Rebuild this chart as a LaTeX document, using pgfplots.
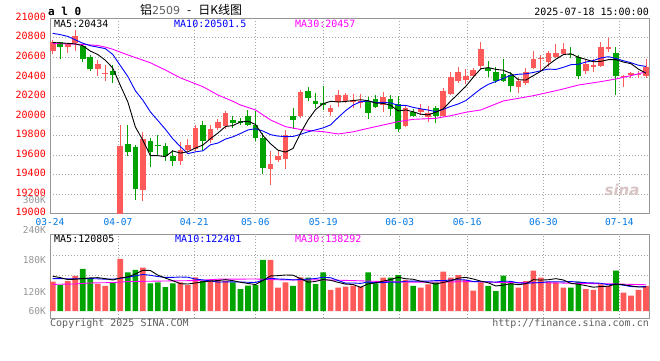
\documentclass[border=0pt]{standalone}
\usepackage{pgfplots}
\pgfplotsset{compat=1.18}
\usepackage{pgfplotstable}
\usepackage{fontspec}
\setmainfont{DejaVu Sans}
\setmonofont{DejaVu Sans Mono}
\newfontfamily\cjk{Noto Sans CJK SC}
\definecolor{upred}{RGB}{255,90,90}
\definecolor{dngreen}{RGB}{0,163,0}
\definecolor{bordergray}{RGB}{150,150,150}
\definecolor{gridgray}{RGB}{165,165,165}
\definecolor{datablue}{RGB}{0,120,230}
\definecolor{mathirty}{RGB}{255,0,255}
\definecolor{maten}{RGB}{0,0,255}
\definecolor{txtgray}{RGB}{95,95,95}
\definecolor{lblgray}{RGB}{150,150,150}

% i open high low close volume(K)
\pgfplotstableread{
i open high low close vol
0 20665 20778 20632 20754 147.6
2 20710 20750 20648 20734 150.9
3 20745 20880 20665 20820 176.1
6 20484 20575 20413 20532 135.8
7 20430 20522 20360 20443 125.8
9 19000 19910 19000 19695 261.6
12 19243 19840 19133 19762 218.0
17 19543 19735 19500 19652 144.2
18 19652 19760 19635 19703 130.8
19 19660 19908 19640 19874 169.4
21 19750 19905 19725 19867 157.6
22 19874 19966 19858 19942 157.6
23 19898 20050 19867 20034 152.6
29 19458 19640 19295 19509 256.6
30 19550 19652 19527 19594 117.4
31 19565 19860 19460 19810 144.2
33 19995 20265 19975 20250 169.4
37 20045 20113 20000 20085 105.7
38 20140 20266 20096 20215 117.4
39 20154 20240 20130 20215 122.4
40 20140 20222 20080 20164 127.5
41 20130 20225 20080 20154 122.4
44 20113 20249 20045 20198 167.7
47 19901 20113 19891 20085 156.0
49 20045 20123 20010 20072 117.4
50 19986 20103 19942 20034 134.2
52 20000 20283 19993 20256 197.9
53 20225 20454 20215 20403 167.7
54 20358 20505 20335 20447 181.1
55 20369 20481 20324 20410 156.0
56 20410 20488 20403 20471 102.3
57 20515 20754 20481 20686 144.2
62 20300 20386 20240 20362 117.4
63 20341 20488 20317 20447 150.9
64 20488 20669 20478 20584 202.9
65 20580 20625 20454 20590 167.7
66 20556 20665 20505 20642 147.6
67 20601 20737 20590 20642 144.2
68 20635 20744 20625 20686 117.4
71 20464 20573 20430 20532 110.7
72 20505 20580 20454 20522 105.7
73 20515 20761 20505 20710 134.2
74 20686 20802 20659 20710 125.8
76 20395 20420 20300 20408 92.2
77 20418 20450 20385 20440 77.1
78 20418 20464 20388 20428 105.7
79 20410 20580 20390 20505 125.8
}\updata

\pgfplotstableread{
i open high low close vol
1 20755 20760 20585 20710 130.8
4 20720 20735 20550 20580 211.3
5 20600 20625 20465 20481 164.3
8 20464 20522 20335 20420 142.5
10 19713 19910 19594 19635 194.5
11 19683 19705 19140 19253 206.3
13 19744 19775 19481 19632 139.2
14 19703 19806 19590 19688 144.2
15 19693 19725 19540 19587 120.7
16 19591 19648 19485 19543 139.2
20 19908 19945 19640 19744 150.9
24 19960 20003 19880 19925 144.2
25 19950 19976 19905 19925 110.7
26 19995 20061 19898 19908 127.5
27 19908 20050 19745 19775 130.8
28 19772 19830 19407 19465 256.6
32 20000 20080 19870 19960 125.8
34 20256 20300 20155 20188 167.7
35 20154 20232 20080 20120 135.8
36 20137 20307 20062 20110 194.5
42 20154 20198 19966 20034 194.5
43 20171 20215 20080 20096 139.2
45 20171 20215 19995 20068 167.7
46 20120 20205 19840 19864 181.1
48 20045 20072 19993 20003 125.8
51 20079 20106 19925 20000 144.2
58 20488 20563 20403 20464 125.8
59 20447 20505 20335 20358 100.6
60 20430 20584 20352 20362 177.8
61 20420 20454 20250 20311 139.2
69 20630 20703 20590 20625 117.4
70 20608 20625 20380 20410 147.6
75 20648 20710 20215 20410 202.9
}\dndata

\pgfplotstableread{
i v
0 20752
1 20748
2 20744
3 20738
4 20719.6
5 20665
6 20629.4
7 20571.2
8 20491.2
9 20314.2
10 20145
11 19889.2
12 19753
13 19595.4
14 19594
15 19584.4
16 19642.4
17 19620.4
18 19634.6
19 19671.8
20 19703.2
21 19768
22 19826
23 19892.2
24 19902.4
25 19938.6
26 19946.8
27 19913.4
28 19799.6
29 19716.4
30 19650.2
31 19630.6
32 19667.6
33 19824.6
34 19960.4
35 20065.6
36 20125.6
37 20150.6
38 20143.6
39 20149
40 20157.8
41 20166.6
42 20156.4
43 20132.6
44 20129.2
45 20110
46 20052
47 20062.2
48 20043.6
49 20018.4
50 20011.6
51 20038.8
52 20073
53 20153
54 20228
55 20303.2
56 20397.4
57 20483.4
58 20495.6
59 20477.8
60 20468.2
61 20436.2
62 20371.4
63 20368
64 20413.2
65 20458.8
66 20525
67 20581
68 20628.8
69 20637
70 20601
71 20579
72 20555
73 20559.8
74 20576.8
75 20576.8
76 20552
77 20535.6
78 20479.2
79 20438.2
}\mafive

\pgfplotstableread{
i v
0 20846
1 20833
2 20815
3 20780
4 20745
5 20720
6 20705
7 20690
8 20630
9 20516.9
10 20405
11 20259.3
12 20162.1
13 20043.3
14 19954.1
15 19864.7
16 19765.8
17 19686.7
18 19615
19 19632.9
20 19643.8
21 19705.2
22 19723.2
23 19763.4
24 19787.1
25 19820.9
26 19857.4
27 19869.7
28 19845.9
29 19809.4
30 19794.4
31 19788.7
32 19790.5
33 19812.1
34 19838.4
35 19857.9
36 19878.1
37 19909.1
38 19984.1
39 20054.7
40 20111.7
41 20146.1
42 20153.5
43 20138.1
44 20139.1
45 20133.9
46 20109.3
47 20109.3
48 20088.1
49 20073.8
50 20060.8
51 20045.4
52 20067.6
53 20098.3
54 20123.2
55 20157.4
56 20218.1
57 20278.2
58 20324.3
59 20352.9
60 20385.7
61 20416.8
62 20427.4
63 20431.8
64 20445.5
65 20463.5
66 20480.6
67 20476.2
68 20498.4
69 20525.1
70 20529.9
71 20552
72 20568
73 20594.3
74 20606.9
75 20588.9
76 20565.5
77 20545.3
78 20519.5
79 20507.5
}\maten

\pgfplotstableread{
i v
0 20742
2 20738
4 20733
6 20722
7 20705
8 20683
10 20625
13 20545
15 20471
17 20390
20 20300
22 20215
24 20150
25 20113
27 20062
29 19960
30 19925
31 19891
33 19862
35 19845
36 19840
38 19816
40 19838
42 19874
44 19908
46 19942
48 19966
51 19976
53 20003
55 20038
57 20062
60 20154
62 20181
64 20208
66 20242
68 20277
70 20317
73 20352
75 20379
77 20413
79 20452
}\mathirtyt

\pgfplotstableread{
i v
0 175
1 168
2 158
3 160
4 163.3
5 166.7
6 167.7
7 162.7
8 155.9
9 166
10 172
11 186.1
12 204.6
13 203.9
14 180.4
15 165.7
16 152.3
17 137.5
18 135.8
19 140.9
20 146.9
21 150.6
22 153.3
23 157.6
24 152.6
25 144.5
26 138.5
27 133.2
28 154
29 176.4
30 177.8
31 181.1
32 180.1
33 162.7
34 144.9
35 148.6
36 158.6
37 154.6
38 144.2
39 135.2
40 133.5
41 119.1
42 136.8
43 141.2
44 150.3
45 158.3
46 170
47 162.3
48 159.7
49 149.6
50 142.9
51 135.5
52 143.9
53 152.3
54 165
55 169.4
56 161
57 150.3
58 141.9
59 125.8
60 130.1
61 137.5
62 132.2
63 137.2
64 157.6
65 155.6
66 157.3
67 162.7
68 156
69 138.9
70 134.8
71 127.5
72 119.8
73 123.1
74 124.8
75 135.9
76 132.2
77 126.4
78 120.7
79 120.7
}\vmafive

\pgfplotstableread{
i v
0 163
1 163
2 162
3 162
4 163
5 163
6 162
7 160
8 160
9 164.7
10 169.4
11 176.9
12 183.6
13 179.9
14 173.2
15 168.9
16 169.2
17 171
18 169.9
19 160.7
20 156.3
21 151.4
22 145.4
23 146.7
24 146.7
25 145.7
26 144.6
27 143.2
28 155.8
29 164.5
30 161.2
31 159.8
32 156.6
33 158.3
34 160.7
35 163.2
36 169.9
37 167.4
38 153.5
39 140
40 141
41 138.9
42 145.7
43 142.7
44 142.7
45 145.9
46 144.6
47 149.6
48 150.4
49 149.9
50 150.6
51 152.8
52 153.1
53 156
54 157.3
55 156.1
56 148.3
57 147.1
58 147.1
59 145.4
60 149.8
61 149.3
62 141.2
63 139.5
64 141.7
65 142.9
66 147.4
67 147.4
68 146.6
69 148.3
70 145.2
71 142.4
72 141.2
73 139.5
74 131.8
75 135.4
76 129.8
77 123.1
78 121.9
79 122.8
}\vmaten

\pgfplotstableread{
i v
0 134
3 136
5 141
8 143
10 148
15 151
19 153
22 160
27 161
30 157
37 156
40 153
44 148
48 145
52 146
56 148
60 143
66 142
70 139
75 136
79 132
}\vmathirty

\pgfplotsset{
  chartbase/.style={
    scale only axis, anchor=south west,
    width=599.3pt,
    xmin=-0.36, xmax=79.44,
    scaled ticks=false,
    axis line style={draw=bordergray, line width=0.8pt},
    major tick length=0pt,
    grid=major,
    major grid style={draw=gridgray, line width=0.8pt, dash pattern=on 1pt off 2pt},
    xtick={-0.36,8.70,18.85,26.98,36.03,46.2,55.2,65.33,75.45},
  },
  wick/.style={draw=none, mark=none, forget plot,
    error bars/.cd, y dir=plus, y explicit, error mark=none,
    error bar style={draw=#1, solid, line width=1pt}},
  body/.style={draw=none, mark=none, forget plot,
    error bars/.cd, y dir=plus, y explicit, error mark=none,
    error bar style={draw=#1, solid, line width=5.6pt}},
}

\begin{document}
\begin{tikzpicture}[x=1pt,y=1pt]
\useasboundingbox (0,0) rectangle (660,360);
\fill[white] (0,0) rectangle (660,360);

% ---------- price panel ----------
\begin{axis}[chartbase,
  at={(50pt,146.3pt)}, height=195.4pt,
  ymin=19000, ymax=21000,
  ytick={19000,19200,19400,19600,19800,20000,20200,20400,20600,20800,21000},
  yticklabels={19000,19200,19400,19600,19800,20000,20200,20400,20600,20800,21000},
  yticklabel style={font=\ttfamily\fontsize{10}{10}\selectfont, text=red, inner sep=0pt, xshift=-4pt, yshift=1.5pt},
  xticklabels={03-24,04-07,04-21,05-06,05-19,06-03,06-16,06-30,07-14},
  xticklabel style={font=\ttfamily\fontsize{9.5}{9.5}\selectfont, text=datablue, inner sep=0pt, yshift=-4.5pt},
]
\addplot[wick=upred] table[x=i, y=low, y error plus expr={\thisrow{high}-\thisrow{low}}] {\updata};
\addplot[body=upred] table[x=i, y=open, y error plus expr={max(\thisrow{close}-\thisrow{open},10)}] {\updata};
\addplot[wick=dngreen] table[x=i, y=low, y error plus expr={\thisrow{high}-\thisrow{low}}] {\dndata};
\addplot[body=dngreen] table[x=i, y=close, y error plus expr={max(\thisrow{open}-\thisrow{close},10)}] {\dndata};
\addplot[mathirty, line width=0.9pt, mark=none] table[x=i, y=v] {\mathirtyt};
\addplot[maten, line width=0.9pt, mark=none] table[x=i, y=v] {\maten};
\addplot[black, line width=0.9pt, mark=none] table[x=i, y=v] {\mafive};
\end{axis}

% ---------- volume panel ----------
\begin{axis}[chartbase,
  at={(50pt,41.7pt)}, height=84pt,
  ymin=-36.7, ymax=385.8,
  ytick={177.6,278.2}, yticklabels={},
  xticklabels={},
]
\addplot[ybar, bar width=5.6pt, bar shift=0pt, fill=upred, draw=none] table[x=i, y=vol] {\updata};
\addplot[ybar, bar width=5.6pt, bar shift=0pt, fill=dngreen, draw=none] table[x=i, y=vol] {\dndata};
\addplot[mathirty, line width=0.9pt, mark=none] table[x=i, y=v] {\vmathirty};
\addplot[maten, line width=0.9pt, mark=none] table[x=i, y=v] {\vmaten};
\addplot[black, line width=0.9pt, mark=none] table[x=i, y=v] {\vmafive};
\end{axis}

% ---------- texts ----------
\node[anchor=west, inner sep=0pt, font=\ttfamily\bfseries\fontsize{11}{11}\selectfont] at (48,348.5) {a l 0};
\node[anchor=west, inner sep=0pt, font=\fontsize{12}{12}\selectfont] at (140,350) {{\cjk 铝}{\color{txtgray}\fontsize{11}{11}\selectfont 2509}\hspace{7pt}{\cjk -}\hspace{7pt}{\cjk 日K线图}};
\node[anchor=east, inner sep=0pt, font=\ttfamily\fontsize{10}{10}\selectfont] at (649,348) {2025-07-18 15:00:00};

\node[anchor=west, inner sep=0pt, font=\ttfamily\fontsize{10}{10}\selectfont] at (54,336) {MA5:20434};
\node[anchor=west, inner sep=0pt, font=\ttfamily\fontsize{10}{10}\selectfont, text=maten] at (174,336) {MA10:20501.5};
\node[anchor=west, inner sep=0pt, font=\ttfamily\fontsize{10}{10}\selectfont, text=mathirty] at (295,336) {MA30:20457};

\node[anchor=west, inner sep=0pt, font=\ttfamily\fontsize{10}{10}\selectfont] at (54,121) {MA5:120805};
\node[anchor=west, inner sep=0pt, font=\ttfamily\fontsize{10}{10}\selectfont, text=maten] at (175,121) {MA10:122401};
\node[anchor=west, inner sep=0pt, font=\ttfamily\fontsize{10}{10}\selectfont, text=mathirty] at (295,121) {MA30:138292};

\foreach \lab/\yy in {300K/160, 240K/130, 180K/100, 120K/68, 60K/49}{
  \node[anchor=east, inner sep=0pt, font=\ttfamily\fontsize{9.5}{9.5}\selectfont, text=lblgray] at (46,\yy) {\lab};
}

\node[anchor=west, inner sep=0pt, font=\ttfamily\fontsize{10}{10}\selectfont, text=txtgray] at (50,36) {Copyright 2025 SINA.COM};
\node[anchor=east, inner sep=0pt, font=\ttfamily\fontsize{10}{10}\selectfont, text=txtgray] at (649,36) {http://finance.sina.com.cn};

\node[inner sep=0pt, font=\bfseries\itshape\fontsize{15}{15}\selectfont, text={rgb,255:red,215;green,195;blue,195}] at (622,170) {sina};
\end{tikzpicture}
\end{document}
